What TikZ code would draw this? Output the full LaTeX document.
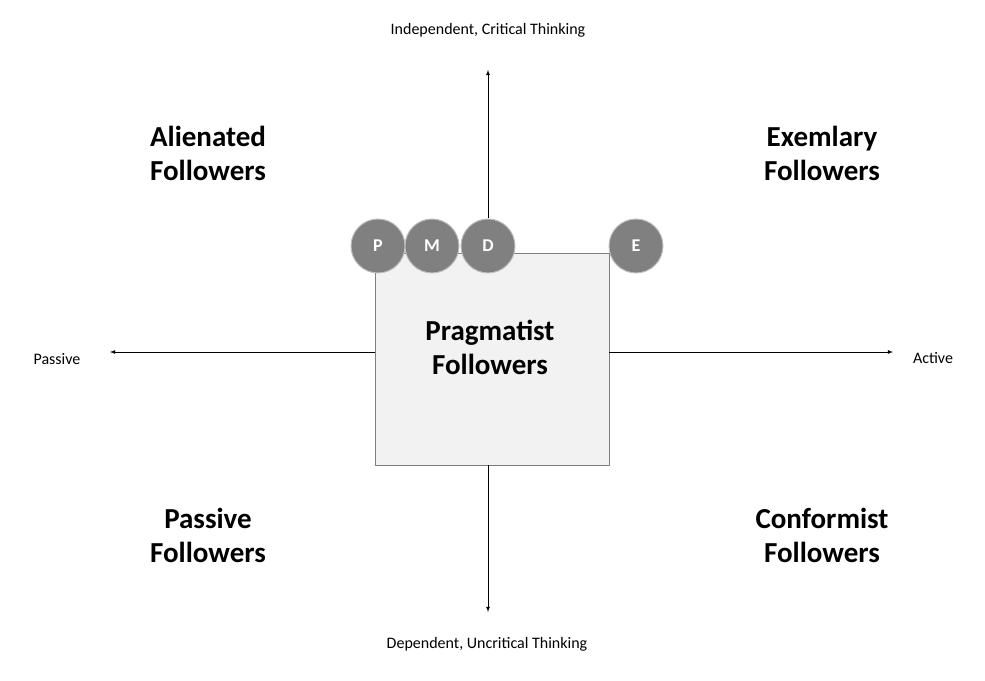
\documentclass[tikz,border=0pt]{standalone}
\usepackage{fontspec}
\setmainfont{Carlito}
\usetikzlibrary{positioning}

\definecolor{boxfill}{HTML}{F2F2F2}
\definecolor{boxline}{HTML}{7F7F7F}
\definecolor{dotfill}{HTML}{808080}
\definecolor{dotline}{HTML}{BFBFBF}

\tikzset{
  quad/.style={align=center,font=\fontsize{29}{34}\selectfont\bfseries},
  axislabel/.style={font=\fontsize{16}{19}\selectfont},
  axis/.style={-latex,thick},
  dot/.style={circle,draw=dotline,line width=1pt,fill=dotfill,minimum size=54pt,
    inner sep=0pt,text=white,font=\fontsize{18}{20}\selectfont\bfseries}
}

\begin{document}
\begin{tikzpicture}[x=1pt,y=1pt]
    \useasboundingbox (0,0) rectangle (985,680);
    \node[draw=boxline,fill=boxfill,minimum width=234pt,minimum height=212pt,
      inner sep=0pt] (prag) at (492,321) {};
    \node[quad] at (490,333) {Pragmatist\\Followers};
    % circles on the upper edge
    \node[dot] (d_P) at (378,434) {P};
    \node[dot] (d_M) at (432,434) {M};
    \node[dot] (d_D) at (488,434) {D};
    \node[dot] (d_E) at (636,434) {E};
    % axis ends
    \coordinate (top)    at (488,610);
    \coordinate (bottom) at (488,68);
    \coordinate (left)   at (110,328);
    \coordinate (right)  at (893,328);
    \draw[axis] (d_D.north) -- (top);
    \draw[axis] (prag.south -| bottom) -- (bottom);
    \draw[axis] (prag.west |- left) -- (left);
    \draw[axis] (prag.east |- right) -- (right);
    % axis labels
    \node[axislabel] (l_top) at (488,650) {Independent, Critical Thinking};
    \node[axislabel] (l_bot) at (487,36) {Dependent, Uncritical Thinking};
    \node[axislabel] (l_left) at (57,321) {Passive};
    \node[axislabel] (l_right) at (933,322) {Active};
    % quadrants
    \node[quad] (q_al) at (208,527) {Alienated\\Followers};
    \node[quad] (q_ex) at (822,527) {Exemlary\\Followers};
    \node[quad] (q_pa) at (208,145) {Passive\\Followers};
    \node[quad] (q_co) at (822,145) {Conformist\\Followers};
\end{tikzpicture}
\end{document}
